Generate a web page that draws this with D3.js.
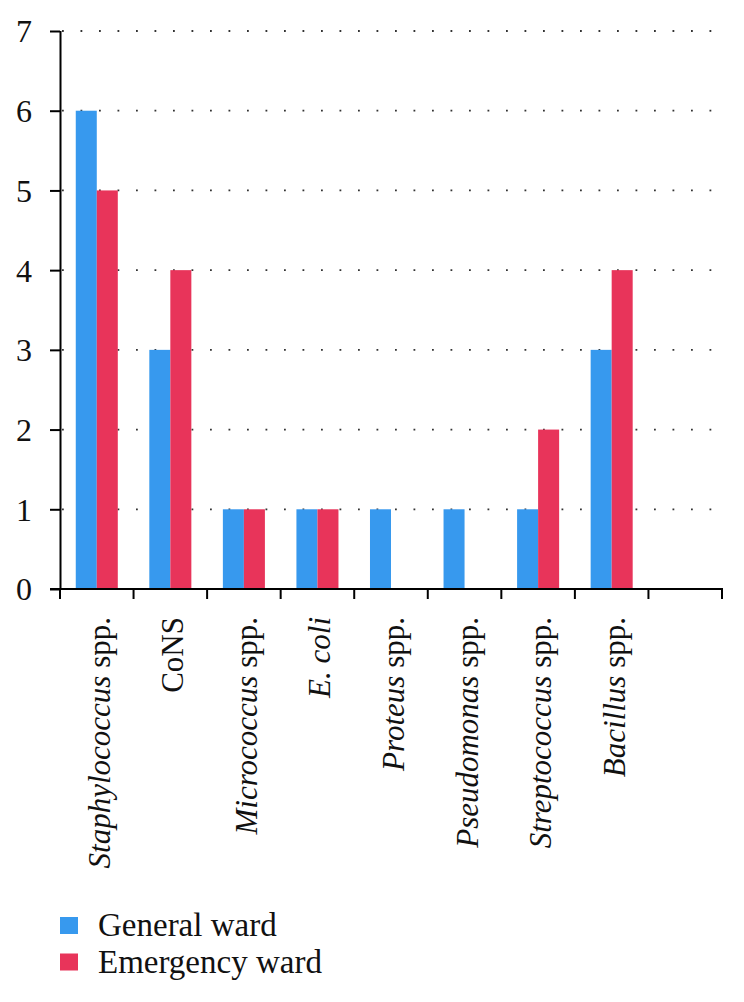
<!DOCTYPE html>
<html>
<head>
<meta charset="utf-8">
<script src="https://d3js.org/d3.v7.min.js"></script>
<style>
  html, body { margin: 0; padding: 0; background: #fff; }
  svg { display: block; }
  text { font-family: "Liberation Serif", "DejaVu Serif", serif; fill: #111; }
</style>
</head>
<body>
<svg id="chart" width="744" height="1002"></svg>
<script>
// ---- data ----
const categories = ["Staphylococcus spp.", "CoNS", "Micrococcus spp.", "E. coli", "Proteus spp.", "Pseudomonas spp.", "Streptococcus spp.", "Bacillus spp."];
const italicParts = ["Staphylococcus", "", "Micrococcus", "E. coli", "Proteus", "Pseudomonas", "Streptococcus", "Bacillus"];
const seriesNames = ["General ward", "Emergency ward"];
const generalWard = [6, 3, 1, 1, 1, 1, 1, 3];
const emergencyWard = [5, 4, 1, 1, 0, 0, 2, 4];
const yTicks = [0, 1, 2, 3, 4, 5, 6, 7];
const colors = ["#3799ee", "#e8345a"];

// ---- layout ----
const svg = d3.select("#chart");
const mLeft = 60, mRight = 722, mTop = 31, mBottom = 589;
const slots = categories.concat([""]); // empty trailing slot as in the original

const x0 = d3.scaleBand().domain(d3.range(slots.length)).range([mLeft, mRight]).paddingInner(0).paddingOuter(0);
const x1 = d3.scaleBand().domain(seriesNames).range([0, x0.bandwidth()]).paddingInner(0).paddingOuter(0.75);
const y = d3.scaleLinear().domain([0, 7]).range([mBottom, mTop]);
const color = d3.scaleOrdinal().domain(seriesNames).range(colors);

// gridlines
svg.append("g").selectAll("line")
  .data(yTicks.filter(d => d > 0))
  .join("line")
  .attr("x1", mLeft + 2).attr("x2", mRight)
  .attr("y1", d => y(d)).attr("y2", d => y(d))
  .attr("stroke", "#333").attr("stroke-width", 1.8)
  .attr("stroke-dasharray", "1.8,16.7");

// bars
const rows = categories.map((c, i) => ({ i, values: [generalWard[i], emergencyWard[i]] }));
const groups = svg.append("g").selectAll("g")
  .data(rows).join("g")
  .attr("transform", d => `translate(${x0(d.i)},0)`);
groups.selectAll("rect")
  .data(d => d.values.map((v, k) => ({ key: seriesNames[k], v })).filter(e => e.v > 0))
  .join("rect")
  .attr("x", e => x1(e.key))
  .attr("width", x1.bandwidth())
  .attr("y", e => y(e.v))
  .attr("height", e => y(0) - y(e.v))
  .attr("fill", e => color(e.key));

// y axis
const yAxis = svg.append("g")
  .attr("transform", `translate(${mLeft},0)`)
  .attr("font-family", null)
  .call(d3.axisLeft(y).tickValues(yTicks).tickFormat(d3.format("d")).tickSize(10).tickPadding(18));
yAxis.attr("font-family", '"Liberation Serif", serif');
yAxis.select(".domain").attr("stroke", "#000").attr("stroke-width", 2).attr("d", `M0.5,${mTop}V${mBottom}`);
yAxis.selectAll(".tick line").attr("stroke", "#000").attr("stroke-width", 2);
yAxis.selectAll(".tick text").style("font-size", "32px").style("font-family", '"Liberation Serif", serif').attr("fill", "#111").attr("dy", "0.34em");

// x axis
const xAxisG = svg.append("g").attr("transform", `translate(0,${mBottom})`);
xAxisG.append("line")
  .attr("x1", mLeft - 10).attr("x2", mRight + 1)
  .attr("y1", 0).attr("y2", 0)
  .attr("stroke", "#000").attr("stroke-width", 2);
xAxisG.selectAll("line.tk")
  .data(d3.range(slots.length + 1))
  .join("line").attr("class", "tk")
  .attr("x1", i => i < slots.length ? x0(i) : mRight)
  .attr("x2", i => i < slots.length ? x0(i) : mRight)
  .attr("y1", 0).attr("y2", 10)
  .attr("stroke", "#000").attr("stroke-width", 2);

// category labels (rotated)
const labels = xAxisG.selectAll("text.lab")
  .data(categories.map((c, i) => ({ c, i, it: italicParts[i] })))
  .join("text").attr("class", "lab")
  .attr("transform", d => `translate(${x0(d.i) + x0.bandwidth() / 2 + 13},28) rotate(-90)`)
  .attr("text-anchor", "end")
  .style("font-size", "31px");
labels.each(function(d) {
  const t = d3.select(this);
  const rest = d.c.slice(d.it.length);
  if (d.it) t.append("tspan").style("font-style", "italic").text(d.it);
  if (rest) t.append("tspan").text(rest);
});

// legend
const legend = svg.append("g").selectAll("g")
  .data(seriesNames).join("g")
  .attr("transform", (d, i) => `translate(60,${917 + i * 36.5})`);
legend.append("rect").attr("width", 18).attr("height", 17).attr("fill", d => color(d));
legend.append("text").attr("x", 38).attr("y", 19).style("font-size", "33px").text(d => d);
</script>
</body>
</html>
